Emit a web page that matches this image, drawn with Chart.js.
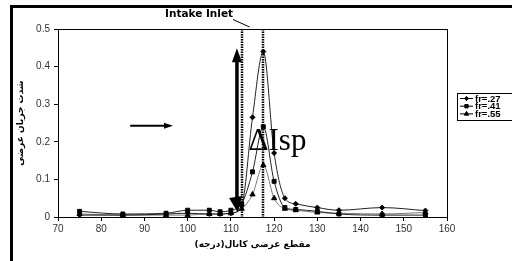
<!DOCTYPE html>
<html><head><meta charset="utf-8">
<script src="https://cdn.jsdelivr.net/npm/chart.js@4/dist/chart.umd.min.js"></script>
<style>html,body{margin:0;padding:0;background:#fff;overflow:hidden}canvas{display:block}</style>
</head><body><canvas id="c" width="512" height="261"></canvas>
<script>
// ---- data ----
const angles = [75, 85, 95, 100, 105, 107.5, 110, 112.5, 115, 117.5, 120, 122.5, 125, 130, 135, 145, 155];
const fr27 = [0.005, 0.005, 0.008, 0.010, 0.008, 0.008, 0.010, 0.030, 0.265, 0.440, 0.170, 0.050, 0.035, 0.025, 0.018, 0.025, 0.017];
const fr41 = [0.015, 0.008, 0.010, 0.018, 0.018, 0.014, 0.018, 0.035, 0.120, 0.240, 0.095, 0.025, 0.020, 0.015, 0.008, 0.005, 0.005];
const fr55 = [0.008, 0.005, 0.005, 0.005, 0.008, 0.008, 0.010, 0.022, 0.060, 0.138, 0.050, 0.022, 0.018, 0.012, 0.010, 0.008, 0.012];
const seriesLabels = ['fr=.27', 'fr=.41', 'fr=.55'];
const xRange = [70, 160, 10];
const yRange = [0, 0.5, 0.1];
const inletLines = [112.5, 117.5];
const xTitle = 'مقطع عرضی کانال(درجه)';
const yTitle = 'شدت جریان عرضی';
const topLabel = 'Intake Inlet';
const deltaLabel = 'ΔIsp';

const toPts = arr => angles.map((a, i) => ({x: a, y: arr[i]}));

const styles = [
  {line: '#222', point: 'rectRot', r: 2.5},
  {line: '#222', point: 'rect', r: 2.8},
  {line: '#777', point: 'triangle', r: 3}
];
const series = [fr27, fr41, fr55];

const datasets = series.map((s, i) => ({
  label: seriesLabels[i],
  data: toPts(s),
  borderColor: styles[i].line,
  borderWidth: 1,
  pointStyle: styles[i].point,
  pointRadius: styles[i].r,
  pointBackgroundColor: '#000',
  pointBorderColor: '#000',
  pointBorderWidth: 1,
  cubicInterpolationMode: 'monotone',
  fill: false
}));

function arrowHead(ctx, tx, ty, ang, len, w) {
  ctx.beginPath();
  ctx.moveTo(tx, ty);
  ctx.lineTo(tx - len * Math.cos(ang) + w / 2 * Math.sin(ang), ty - len * Math.sin(ang) - w / 2 * Math.cos(ang));
  ctx.lineTo(tx - len * Math.cos(ang) - w / 2 * Math.sin(ang), ty - len * Math.sin(ang) + w / 2 * Math.cos(ang));
  ctx.closePath();
  ctx.fill();
}

const deco = {
  id: 'deco',
  afterDatasetsDraw(chart) {
    const {ctx, chartArea: a, scales: {x, y}} = chart;
    ctx.save();
    // plot box
    ctx.strokeStyle = '#000'; ctx.lineWidth = 1;
    ctx.strokeRect(Math.round(a.left) + 0.5, Math.round(a.top) + 0.5, Math.round(a.right - a.left), Math.round(a.bottom - a.top));
    // dotted inlet lines
    ctx.setLineDash([1.5, 1]); ctx.lineWidth = 2.5;
    inletLines.forEach(v => {
      const px = Math.round(x.getPixelForValue(v));
      ctx.beginPath(); ctx.moveTo(px, a.top); ctx.lineTo(px, a.bottom); ctx.stroke();
    });
    ctx.setLineDash([]);
    // big vertical double arrow
    const ax = x.getPixelForValue(111.4);
    const yTop = y.getPixelForValue(0.449), yBot = y.getPixelForValue(0.011);
    ctx.fillStyle = '#000'; ctx.strokeStyle = '#000'; ctx.lineWidth = 3.5;
    ctx.beginPath(); ctx.moveTo(ax, yTop + 10); ctx.lineTo(ax, yBot - 10); ctx.stroke();
    arrowHead(ctx, ax, yTop, -Math.PI / 2, 14, 10);
    arrowHead(ctx, ax + 1, yBot, Math.PI / 2 - 0.15, 16, 13);
    // horizontal arrow
    const hx1 = x.getPixelForValue(86.7), hx2 = x.getPixelForValue(96.6), hy = y.getPixelForValue(0.243);
    ctx.lineWidth = 2;
    ctx.beginPath(); ctx.moveTo(hx1, hy); ctx.lineTo(hx2 - 6, hy); ctx.stroke();
    arrowHead(ctx, hx2, hy, 0, 9, 6);
    // ΔIsp
    ctx.font = '31px "Liberation Serif", "Times New Roman", serif';
    ctx.textAlign = 'left'; ctx.textBaseline = 'alphabetic';
    ctx.fillText(deltaLabel, x.getPixelForValue(114.1), y.getPixelForValue(0.178));
    ctx.restore();
  },
  afterDraw(chart) {
    const {ctx, chartArea: a, scales: {x}} = chart;
    ctx.save();
    // outer frame (top and left thick lines)
    ctx.fillStyle = '#000';
    ctx.fillRect(10, 5, 502, 3);
    ctx.fillRect(10, 5, 3, 256);
    // Intake Inlet label + pointer
    ctx.font = 'bold 10.5px "DejaVu Sans", sans-serif';
    ctx.textAlign = 'left'; ctx.textBaseline = 'middle';
    ctx.fillText(topLabel, 165, 14);
    ctx.strokeStyle = '#000'; ctx.lineWidth = 1;
    const px = x.getPixelForValue(inletLines[0]);
    ctx.beginPath(); ctx.moveTo(233, 19.5); ctx.lineTo(px + 8, a.top - 2); ctx.stroke();
    // axis titles
    ctx.font = 'bold 9px "DejaVu Sans", sans-serif';
    ctx.textAlign = 'center';
    ctx.fillText(xTitle, (a.left + a.right) / 2, 245);
    ctx.save();
    ctx.translate(21, (a.top + a.bottom) / 2);
    ctx.rotate(-Math.PI / 2);
    ctx.fillText(yTitle, 0, 0);
    ctx.restore();
    // legend
    const lx = 457, ly = 93;
    ctx.lineWidth = 1; ctx.strokeStyle = '#000';
    ctx.strokeRect(lx + 0.5, ly + 0.5, 70, 27);
    ctx.font = 'bold 9.5px "Liberation Sans", Arial, sans-serif';
    ctx.textAlign = 'left';
    datasets.forEach((d, i) => {
      const yy = ly + 5.5 + i * 7.7;
      ctx.strokeStyle = '#000';
      ctx.beginPath(); ctx.moveTo(lx + 3, yy); ctx.lineTo(lx + 16, yy); ctx.stroke();
      Chart.helpers.drawPoint(ctx, {pointStyle: d.pointStyle, radius: d.pointRadius * 0.85, borderWidth: 1}, lx + 9.5, yy);
      ctx.fillStyle = '#000';
      ctx.fillText(d.label, lx + 18, yy + 0.5);
    });
    ctx.restore();
  }
};

Chart.defaults.font.family = '"Liberation Sans", Arial, sans-serif';
new Chart(document.getElementById('c'), {
  type: 'line',
  data: {datasets},
  options: {
    responsive: false,
    animation: false,
    events: [],
    layout: {padding: {left: 12, top: 29, right: 65, bottom: 0}},
    plugins: {legend: {display: false}, tooltip: {enabled: false}},
    scales: {
      x: {
        type: 'linear', min: xRange[0], max: xRange[1],
        ticks: {stepSize: xRange[2], color: '#333', font: {size: 10}, padding: 2, maxRotation: 0},
        grid: {drawOnChartArea: false, drawTicks: true, tickLength: 4, color: '#000'},
        border: {display: true, color: '#000', width: 1},
        afterFit(s) { s.height = 44; }
      },
      y: {
        min: yRange[0], max: yRange[1],
        ticks: {stepSize: yRange[2], color: '#333', font: {size: 10}, padding: 4,
          callback: v => Number(v.toFixed(1)).toString()},
        grid: {drawOnChartArea: false, drawTicks: true, tickLength: 4, color: '#000'},
        border: {display: true, color: '#000', width: 1},
        afterFit(s) { s.width = 46; }
      }
    }
  },
  plugins: [deco]
});
</script>
</body></html>
